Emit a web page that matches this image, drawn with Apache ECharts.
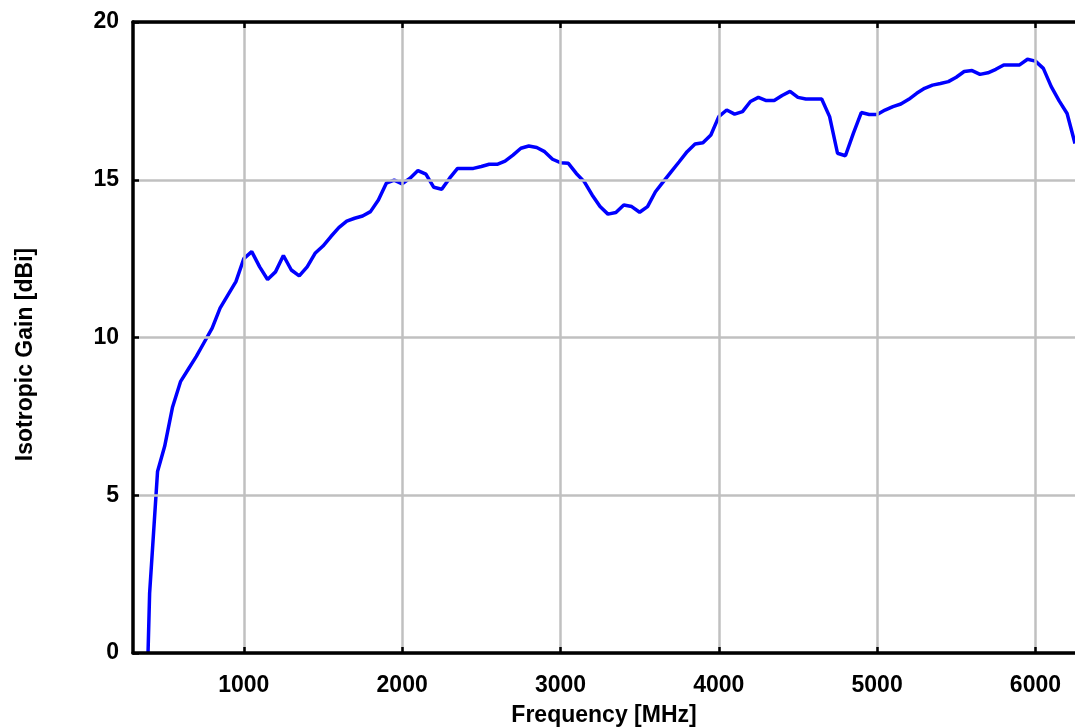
<!DOCTYPE html>
<html>
<head>
<meta charset="utf-8">
<script src="https://cdn.jsdelivr.net/npm/echarts@6/dist/echarts.min.js"></script>
<style>
html,body{margin:0;padding:0;background:#fff;}
#chart{width:1075px;height:728px;}
</style>
</head>
<body>
<div id="chart"></div>
<script>
const freqMHz = [395, 405, 455, 500, 550, 600, 650, 700, 750, 800, 850, 900, 950,
  1000, 1050, 1100, 1150, 1200, 1250, 1300, 1350, 1400, 1450, 1500, 1550, 1600, 1650, 1700, 1750, 1800, 1850, 1900, 1950,
  2000, 2050, 2100, 2150, 2200, 2250, 2300, 2350, 2400, 2450, 2500, 2550, 2600, 2650, 2700, 2750, 2800, 2850, 2900, 2950,
  3000, 3050, 3100, 3150, 3200, 3250, 3300, 3350, 3400, 3450, 3500, 3550, 3600, 3650, 3700, 3750, 3800, 3850, 3900, 3950,
  4000, 4050, 4100, 4150, 4200, 4250, 4300, 4350, 4400, 4450, 4500, 4550, 4600, 4650, 4700, 4750, 4800, 4850, 4900, 4950,
  5000, 5050, 5100, 5150, 5200, 5250, 5300, 5350, 5400, 5450, 5500, 5550, 5600, 5650, 5700, 5750, 5800, 5850, 5900, 5950,
  6000, 6050, 6100, 6150, 6200, 6250];
const gainDBi = [0, 1.9, 5.75, 6.55, 7.8, 8.6, 9.0, 9.4, 9.85, 10.3, 10.93, 11.35, 11.77,
  12.5, 12.72, 12.24, 11.84, 12.08, 12.6, 12.14, 11.95, 12.24, 12.67, 12.9, 13.2, 13.48, 13.69, 13.78, 13.85, 13.99, 14.36, 14.89, 14.99,
  14.87, 15.05, 15.29, 15.18, 14.76, 14.7, 15.05, 15.36, 15.36, 15.36, 15.42, 15.49, 15.49, 15.59, 15.78, 16.0, 16.07, 16.02, 15.89, 15.65,
  15.54, 15.52, 15.2, 14.94, 14.52, 14.15, 13.91, 13.96, 14.2, 14.15, 13.97, 14.15, 14.62, 14.94, 15.26, 15.57, 15.89, 16.13, 16.17, 16.42,
  17.0, 17.21, 17.08, 17.16, 17.48, 17.61, 17.51, 17.51, 17.67, 17.8, 17.61, 17.56, 17.56, 17.56, 17.0, 15.84, 15.76, 16.47, 17.13, 17.07,
  17.07, 17.21, 17.32, 17.4, 17.55, 17.74, 17.9, 18.0, 18.05, 18.11, 18.25, 18.43, 18.46, 18.34, 18.39, 18.5, 18.64, 18.64, 18.64, 18.82,
  18.76, 18.53, 17.95, 17.5, 17.1, 16.15];
const xTicks = [1000, 2000, 3000, 4000, 5000, 6000];
const yTicks = [0, 5, 10, 15, 20];

const font = "'Liberation Sans', Arial, sans-serif";
const chart = echarts.init(document.getElementById('chart'));
chart.setOption({
  animation: false,
  backgroundColor: '#ffffff',
  grid: { left: 133, right: 0, top: 22, bottom: 75, containLabel: false, outerBoundsMode: 'none' },
  xAxis: [{
    type: 'value', min: 300, max: 6250, position: 'bottom',
    name: 'Frequency [MHz]', nameLocation: 'middle', nameGap: 51,
    nameTextStyle: { fontFamily: font, fontWeight: 'bold', fontSize: 23, color: '#000' },
    axisLine: { show: true, onZero: false, lineStyle: { color: '#000', width: 3.5 } },
    axisTick: { show: true, inside: true, length: 6, customValues: xTicks, lineStyle: { color: '#000', width: 2.5 } },
    axisLabel: { customValues: xTicks, margin: 21, formatter: v => String(v),
      fontFamily: font, fontWeight: 'bold', fontSize: 23, color: '#000' },
    splitLine: { show: true, lineStyle: { color: '#c0c0c0', width: 2.5 } },
    z: 5
  }, {
    type: 'value', min: 300, max: 6250, position: 'top',
    axisLine: { show: true, onZero: false, lineStyle: { color: '#000', width: 3.5 } },
    axisTick: { show: true, inside: true, length: 6, customValues: xTicks, lineStyle: { color: '#000', width: 2.5 } },
    axisLabel: { show: false },
    splitLine: { show: false },
    z: 5
  }],
  yAxis: {
    type: 'value', min: 0, max: 20, interval: 5,
    name: 'Isotropic Gain [dBi]', nameLocation: 'middle', nameGap: 96,
    nameTextStyle: { fontFamily: font, fontWeight: 'bold', fontSize: 23, color: '#000', padding: [0, 34, 0, 0] },
    axisLine: { show: true, onZero: false, lineStyle: { color: '#000', width: 3.5 } },
    axisTick: { show: true, inside: true, length: 6, lineStyle: { color: '#000', width: 2.5 } },
    axisLabel: { margin: 14, fontFamily: font, fontWeight: 'bold', fontSize: 23, color: '#000', customValues: yTicks },
    splitLine: { show: true, lineStyle: { color: '#c0c0c0', width: 2.5 } },
    z: 5
  },
  series: [{
    type: 'line',
    data: freqMHz.map((f, i) => [f, gainDBi[i]]),
    showSymbol: false,
    symbol: 'none',
    lineStyle: { color: '#0000ff', width: 3.5 },
    clip: true,
    z: 3
  }]
});
</script>
</body>
</html>
